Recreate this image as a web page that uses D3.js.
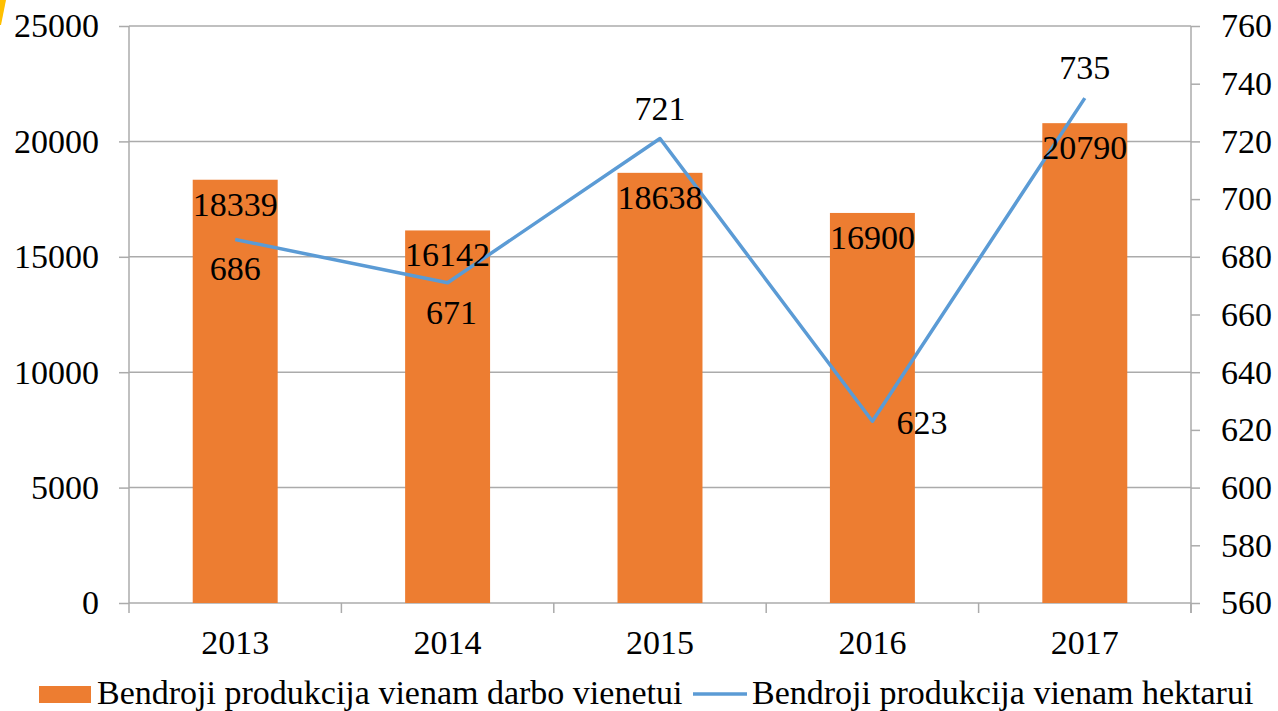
<!DOCTYPE html>
<html><head><meta charset="utf-8">
<script src="https://cdn.jsdelivr.net/npm/d3@7"></script>
<style>body{margin:0;background:#fff}svg{display:block}</style>
</head><body>
<script>
const years = ["2013","2014","2015","2016","2017"];
const perUnit = [18339,16142,18638,16900,20790];
const perHectare = [686,671,721,623,735];
const leftTicks = [0,5000,10000,15000,20000,25000];
const rightTicks = [560,580,600,620,640,660,680,700,720,740,760];
const seriesNames = ["Bendroji produkcija vienam darbo vienetui","Bendroji produkcija vienam hektarui"];
// label placement per line point
const linePos = ["below","below","above","right","above"];

const W=1278,H=711, FS=34, FF="Liberation Serif";
const m={l:129,r:W-1191,t:26,b:H-603};
const svg=d3.select("body").append("svg").attr("width",W).attr("height",H)
  .attr("font-family",FF);
const x=d3.scaleBand().domain(years).range([m.l,W-m.r]).paddingInner(0.6).paddingOuter(0.3);
const xb=d3.scaleBand().domain(years).range([m.l,W-m.r]);
const yL=d3.scaleLinear().domain([0,25000]).range([H-m.b,m.t]);
const yR=d3.scaleLinear().domain([560,760]).range([H-m.b,m.t]);
const grey="#ABABAB";

svg.append("path").attr("d","M0,0L6,0L1,25L0,25Z").attr("fill","#FFC000");

// gridlines
svg.append("g").selectAll("line").data(leftTicks.slice(1)).join("line")
 .attr("x1",m.l).attr("x2",W-m.r).attr("y1",d=>yL(d)).attr("y2",d=>yL(d))
 .attr("stroke",grey).attr("stroke-width",1.5);

// axes
const gl=svg.append("g").attr("transform",`translate(${m.l},0)`)
 .call(d3.axisLeft(yL).tickValues(leftTicks).tickSize(10).tickPadding(20).tickFormat(d3.format("d")));
const gr=svg.append("g").attr("transform",`translate(${W-m.r},0)`)
 .call(d3.axisRight(yR).tickValues(rightTicks).tickSize(9).tickPadding(21).tickFormat(d3.format("d")));
const gb=svg.append("g").attr("transform",`translate(0,${H-m.b})`)
 .call(d3.axisBottom(xb).tickSize(0).tickPadding(27));
gb.selectAll(".tick").select("line").remove();
gb.append("g").selectAll("line").data(d3.range(years.length+1)).join("line")
 .attr("x1",i=>m.l+i*xb.step()).attr("x2",i=>m.l+i*xb.step()).attr("y1",0).attr("y2",10)
 .attr("stroke",grey).attr("stroke-width",1.5);
[gl,gr,gb].forEach(g=>{
  g.attr("font-family",FF).attr("font-size",FS);
  g.select(".domain").attr("stroke",grey).attr("stroke-width",1.5);
  g.selectAll(".tick line").attr("stroke",grey).attr("stroke-width",1.5);
  g.selectAll("text").attr("font-family",FF).attr("font-size",FS).attr("fill","#000");
});
gl.select(".domain").attr("d",`M0,${m.t}V${H-m.b}`);
gr.select(".domain").attr("d",`M0,${m.t}V${H-m.b+10}`);
gb.select(".domain").attr("d",`M${m.l},0H${W-m.r}`);

// bars
svg.append("g").selectAll("rect").data(perUnit).join("rect")
 .attr("x",(d,i)=>x(years[i])).attr("width",x.bandwidth())
 .attr("y",d=>yL(d)).attr("height",d=>yL(0)-yL(d)).attr("fill","#ED7D31");

// line
const cx=i=>xb(years[i])+xb.bandwidth()/2;
svg.append("path").datum(perHectare)
 .attr("d",d3.line().x((d,i)=>cx(i)).y(d=>yR(d)))
 .attr("fill","none").attr("stroke","#5B9BD5").attr("stroke-width",3.5).attr("stroke-linejoin","round");

// bar labels
svg.append("g").selectAll("text").data(perUnit).join("text")
 .attr("x",(d,i)=>cx(i)).attr("y",d=>yL(d)+36).attr("text-anchor","middle")
 .attr("font-family",FF).attr("font-size",FS).attr("fill","#000").text(d=>d);

// line labels
svg.append("g").selectAll("text").data(perHectare).join("text")
 .attr("x",(d,i)=>linePos[i]==="right"?cx(i)+24:cx(i)+(i===1?4:0))
 .attr("y",(d,i)=>{const p=yR(d);return linePos[i]==="below"?p+41:linePos[i]==="above"?p-19:p+13;})
 .attr("text-anchor",(d,i)=>linePos[i]==="right"?"start":"middle")
 .attr("font-family",FF).attr("font-size",FS).attr("fill","#000").text(d=>d);

// legend
const lg=svg.append("g");
lg.append("rect").attr("x",39).attr("y",686).attr("width",52).attr("height",17).attr("fill","#ED7D31");
lg.append("text").attr("x",97).attr("y",704).attr("font-family",FF).attr("font-size",FS).attr("fill","#000").text(seriesNames[0]);
lg.append("line").attr("x1",693).attr("x2",747).attr("y1",694).attr("y2",694).attr("stroke","#5B9BD5").attr("stroke-width",3.5);
lg.append("text").attr("x",752).attr("y",704).attr("font-family",FF).attr("font-size",FS).attr("fill","#000").text(seriesNames[1]);
</script>
</body></html>
